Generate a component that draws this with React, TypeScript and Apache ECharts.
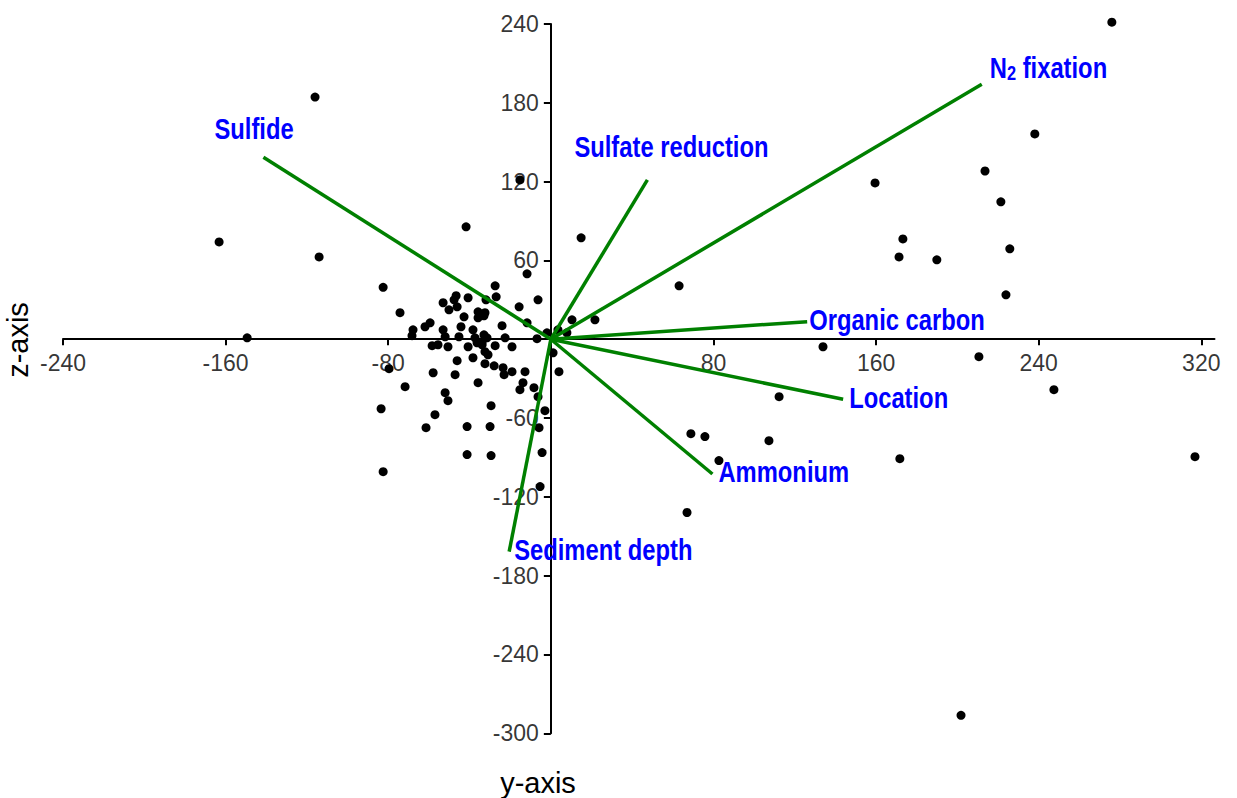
import React, { useEffect, useRef } from 'react';
import * as echarts from 'echarts';

// Sample scores: horizontal ("y-axis") and vertical ("z-axis") coordinates
const pointY = [
  -41.7, -82.5, -74.2, -11.7, -27.4, -26.9, -40.7, -46.6, -47.6, -53.0,
  -50.1, -46.1, -31.9, -6.3, -15.6, -42.7, -35.8, -32.4, -35.8, -32.9,
  -59.4, -61.9, -67.8, -68.3, -53.0, -52.0, -44.2, -38.3, -32.9, -31.4,
  -24.0, -11.7, -22.5, -6.8, -1.9, 10.4, -45.2, -37.3, -33.8, -58.4,
  -55.5, -50.6, -40.7, -36.3, -33.8, -32.4, -30.9, -27.4, -19.1, 1.1,
  -46.1, -38.3, -32.4, -27.9, -23.5, -23.0, -19.1, -12.7, 4.0, -79.6,
  -57.9, -47.1, -35.8, -13.7, -15.2, -8.3, -71.7, -52.0, -50.6, -6.3,
  -29.4, -83.5, -2.9, -57.0, -61.4, -41.2, -29.9, -5.8, -4.3, -41.2,
  -29.4, -82.5, -5.3, 14.9, -15.2, 7.9, 21.7, 63.1, -116.0, -163.2,
  -114.0, -149.4, 276.0, 238.1, 213.6, 159.5, 221.4, 173.2, 171.3, 189.9,
  225.8, 223.9, 133.9, 210.6, 247.5, 112.3, 68.9, 75.8, 107.3, 82.7,
  171.7, 316.9, 67.0, 201.8, 3.5,
];
const pointZ = [
  85.6, 39.5, 20.2, 49.8, 40.7, 32.3, 31.6, 33.1, 30.0, 27.8,
  22.4, 24.7, 30.0, 30.0, 24.7, 17.1, 20.9, 20.2, 16.3, 17.9,
  12.5, 9.5, 7.2, 2.7, 7.2, 1.9, 9.5, 7.2, 3.4, 1.1,
  10.3, 12.5, 1.1, 0.4, 4.9, 14.8, 1.9, 1.1, -1.9, -4.9,
  -4.2, -5.7, -5.7, -2.7, -4.2, -9.5, -11.8, -4.9, -5.7, -10.3,
  -16.3, -14.1, -18.6, -20.2, -21.7, -27.0, -24.7, -24.7, -24.7, -22.4,
  -25.5, -27.0, -33.1, -33.1, -38.4, -36.9, -36.1, -40.7, -46.8, -43.7,
  -50.6, -52.9, -54.4, -57.4, -67.3, -66.5, -66.5, -67.3, -86.3, -87.8,
  -88.6, -100.8, -112.2, 77.2, 121.3, 4.9, 14.8, 40.7, 184.4, 74.1,
  62.7, 1.1, 241.4, 156.3, 128.1, 119.0, 104.6, 76.4, 62.7, 60.5,
  68.8, 33.8, -5.7, -13.3, -38.4, -43.7, -71.9, -74.1, -77.2, -92.4,
  -90.9, -89.4, -131.9, -286.3, 7.2,
];

// Environmental vectors (biplot arrows from the origin)
const vectorNames = [
  'Sulfide', 'Sulfate reduction', 'N2 fixation', 'Organic carbon',
  'Location', 'Ammonium', 'Sediment depth',
];
const vectorY = [-141.4, 47.5, 212.0, 126.1, 143.8, 79.5, -20.5];
const vectorZ = [138.6, 121.3, 194.1, 13.4, -45.7, -102.6, -161.7];

// Tick labels
const yAxisTicks = [-240, -160, -80, 80, 160, 240, 320];
const zAxisTicks = [-300, -240, -180, -120, -60, 60, 120, 180, 240];

// Label placement (pixels, relative to the arrow tip) — layout only
const labelOffsets: Record<string, [number, number]> = {
  'Sulfide': [-49, -28],
  'Sulfate reduction': [-73, -33],
  'N2 fixation': [8, -16],
  'Organic carbon': [2, -1],
  'Location': [6, -1],
  'Ammonium': [6, -1.5],
  'Sediment depth': [5, -1],
};

const FONT = "'Liberation Sans', Arial, sans-serif";

export default function App() {
  const ref = useRef<HTMLDivElement>(null);

  useEffect(() => {
    if (!ref.current) return;
    const chart = echarts.init(ref.current, undefined, { renderer: 'svg' });

    const vectorSeries = vectorNames.map((name, i) => ({
      type: 'line',
      name,
      data: [[0, 0], [vectorY[i], vectorZ[i]]],
      symbol: 'none',
      silent: true,
      clip: false,
      z: 4,
      lineStyle: { color: '#008000', width: 3.5 },
    }));

    const labelFont = {
      fontSize: 29,
      fontWeight: 'bold',
      fontFamily: FONT,
    };

    const option = {
      animation: false,
      backgroundColor: '#ffffff',
      grid: {
        left: 63,
        top: 24,
        width: 1151.5,
        height: 709.3,
        containLabel: false,
        outerBoundsMode: 'none',
      },
      xAxis: {
        type: 'value',
        min: -240,
        max: 326.5,
        axisLine: { show: true, onZero: true, lineStyle: { color: '#000', width: 2 } },
        axisTick: {
          show: true,
          length: 6,
          customValues: yAxisTicks,
          lineStyle: { color: '#000', width: 2 },
        },
        axisLabel: { show: false },
        splitLine: { show: false },
      },
      yAxis: {
        type: 'value',
        min: -300,
        max: 240,
        axisLine: { show: true, onZero: true, lineStyle: { color: '#000', width: 2 } },
        axisTick: {
          show: true,
          length: 7,
          customValues: zAxisTicks,
          lineStyle: { color: '#000', width: 2 },
        },
        axisLabel: { show: false },
        splitLine: { show: false },
      },
      graphic: [
        {
          type: 'text',
          x: 538,
          y: 783,
          style: {
            text: 'y-axis',
            fontSize: 29,
            fontFamily: FONT,
            fill: '#000',
            textAlign: 'center',
            textVerticalAlign: 'middle',
          },
        },
        {
          type: 'text',
          x: 18,
          y: 340,
          rotation: Math.PI / 2,
          style: {
            text: 'z-axis',
            fontSize: 29,
            fontFamily: FONT,
            fill: '#000',
            textAlign: 'center',
            textVerticalAlign: 'middle',
          },
        },
      ],
      series: [
        {
          type: 'scatter',
          name: 'samples',
          data: pointY.map((y, i) => [y, pointZ[i]]),
          symbol: 'circle',
          symbolSize: 9,
          silent: true,
          clip: false,
          z: 3,
          itemStyle: { color: '#000', opacity: 1 },
        },
        ...vectorSeries,
        {
          type: 'scatter',
          name: 'xTickLabels',
          data: yAxisTicks.map((t) => [t, 0]),
          symbolSize: 0,
          silent: true,
          clip: false,
          z: 2,
          label: {
            show: true,
            position: 'bottom',
            distance: 12,
            color: '#000',
            fontSize: 23,
            fontFamily: FONT,
            formatter: (p: any) => String(p.value[0]),
          },
        },
        {
          type: 'scatter',
          name: 'zTickLabels',
          data: zAxisTicks.map((t) => [0, t]),
          symbolSize: 0,
          silent: true,
          clip: false,
          z: 2,
          label: {
            show: true,
            position: 'left',
            distance: 12,
            color: '#000',
            fontSize: 23,
            fontFamily: FONT,
            formatter: (p: any) => String(p.value[1]),
          },
        },
        {
          type: 'custom',
          name: 'vectorLabels',
          silent: true,
          clip: false,
          z: 5,
          data: vectorNames.map((name, i) => [vectorY[i], vectorZ[i]]),
          renderItem: (params: any, api: any) => {
            const i = params.dataIndex;
            const name = vectorNames[i];
            const off = labelOffsets[name];
            const pt = api.coord([api.value(0), api.value(1)]);
            const isN2 = name === 'N2 fixation';
            return {
              type: 'text',
              x: pt[0] + off[0],
              y: pt[1] + off[1],
              scaleX: 0.82,
              style: {
                text: isN2 ? '{n|N}{s|2}{n| fixation}' : name,
                ...labelFont,
                fill: '#0000ff',
                align: 'left',
                verticalAlign: 'middle',
                rich: isN2
                  ? {
                      n: { ...labelFont, fill: '#0000ff', lineHeight: 30 },
                      s: {
                        fontSize: 20,
                        fontWeight: 'bold',
                        fontFamily: FONT,
                        fill: '#0000ff',
                        lineHeight: 14,
                        verticalAlign: 'bottom',
                      },
                    }
                  : undefined,
              },
            };
          },
        },
      ],
    };

    chart.setOption(option as any);
    return () => chart.dispose();
  }, []);

  return (
    <div
      ref={ref}
      style={{ position: 'absolute', left: 0, top: 0, width: 1237, height: 798 }}
    />
  );
}
